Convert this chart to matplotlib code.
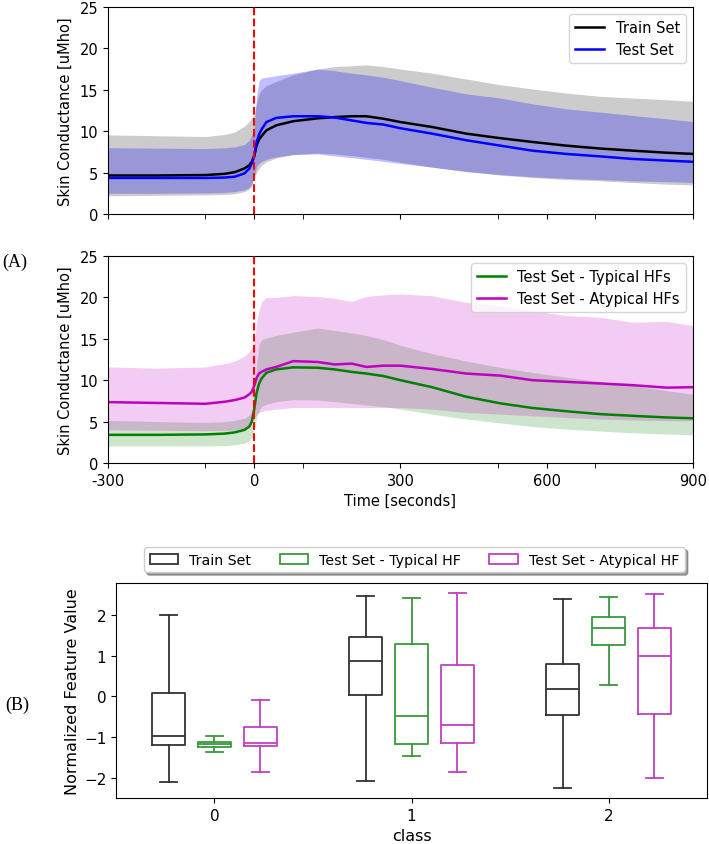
import numpy as np
import matplotlib
matplotlib.use("Agg")
import matplotlib.pyplot as plt
from matplotlib.patches import Patch

# time grid (seconds)
t = [-300, -200, -100, -60, -40, -20, -10, -5, 0, 5, 10, 15, 25, 45, 80, 130,
     165, 200, 230, 265, 300, 365, 435, 505, 570, 640, 710, 775, 845, 900]

# panel 1: train / test means and bands
train_mean = [4.65, 4.65, 4.7, 4.85, 5.05, 5.5, 5.9, 6.3, 7.0, 8.3, 9.0, 9.4, 10.1, 10.7, 11.2, 11.55,
              11.7, 11.8, 11.8, 11.5, 11.1, 10.5, 9.7, 9.15, 8.7, 8.25, 7.9, 7.65, 7.4, 7.25]
train_hi = [9.55, 9.45, 9.35, 9.6, 9.9, 10.6, 11.2, 11.6, 12.0, 13.5, 14.5, 15.0, 15.5, 16.0, 16.8, 17.5,
            17.8, 17.9, 18.0, 17.8, 17.5, 17.0, 16.3, 15.6, 15.1, 14.6, 14.2, 14.0, 13.8, 13.6]
train_lo = [2.2, 2.25, 2.3, 2.35, 2.45, 2.7, 3.0, 3.4, 4.5, 5.0, 5.5, 5.9, 6.3, 6.75, 7.15, 7.35,
            7.25, 7.05, 6.85, 6.6, 6.25, 5.65, 5.1, 4.7, 4.4, 4.15, 4.0, 3.8, 3.6, 3.5]
test_mean = [4.35, 4.35, 4.35, 4.4, 4.5, 4.9, 5.5, 6.1, 7.0, 8.7, 9.6, 10.2, 11.1, 11.6, 11.8, 11.8,
             11.65, 11.3, 11.0, 10.8, 10.35, 9.7, 8.9, 8.25, 7.65, 7.25, 6.95, 6.65, 6.45, 6.3]
test_hi = [8.0, 7.95, 7.9, 8.0, 8.1, 8.4, 8.9, 9.5, 10.5, 14.3, 16.1, 16.4, 16.5, 16.7, 17.0, 17.5,
           17.3, 17.0, 16.8, 16.5, 16.1, 15.3, 14.5, 14.0, 13.3, 12.7, 12.3, 11.9, 11.5, 11.15]
test_lo = [2.5, 2.5, 2.55, 2.6, 2.7, 2.9, 3.2, 3.6, 4.5, 5.8, 6.1, 6.3, 6.6, 6.9, 7.2, 7.25,
           7.0, 6.8, 6.6, 6.35, 6.1, 5.65, 5.15, 4.75, 4.5, 4.3, 4.15, 4.0, 3.9, 3.8]

# panel 2: typical / atypical HFs
typ_mean = [3.4, 3.4, 3.45, 3.55, 3.7, 4.0, 4.4, 5.0, 6.5, 8.5, 9.6, 10.2, 10.9, 11.3, 11.55, 11.5,
            11.3, 11.0, 10.8, 10.5, 10.0, 9.15, 8.0, 7.2, 6.65, 6.25, 5.9, 5.7, 5.5, 5.4]
typ_hi = [5.15, 5.0, 4.9, 5.0, 5.15, 5.4, 5.8, 6.3, 7.5, 12.0, 14.3, 14.9, 15.1, 15.4, 15.8, 16.3,
          16.0, 15.7, 15.4, 14.9, 14.2, 13.2, 12.3, 11.55, 10.95, 10.35, 9.85, 9.35, 8.75, 8.3]
typ_lo = [2.05, 2.05, 2.05, 2.1, 2.2, 2.4, 2.7, 3.1, 4.0, 5.5, 6.3, 6.8, 7.1, 7.4, 7.65, 7.6,
          7.4, 7.2, 7.0, 6.8, 6.5, 5.9, 5.3, 4.85, 4.4, 4.1, 3.85, 3.65, 3.5, 3.4]
atyp_mean = [7.35, 7.25, 7.15, 7.4, 7.6, 7.9, 8.3, 8.6, 9.3, 10.3, 10.8, 11.0, 11.3, 11.6, 12.3, 12.2,
             11.9, 12.0, 11.6, 11.75, 11.75, 11.35, 10.8, 10.55, 10.0, 9.8, 9.6, 9.4, 9.1, 9.15]
atyp_hi = [11.6, 11.45, 11.6, 12.0, 12.3, 12.9, 13.4, 13.9, 14.5, 17.0, 18.5, 19.5, 20.0, 20.0, 20.2, 20.1,
           19.9, 19.5, 20.1, 20.3, 20.4, 20.2, 19.4, 19.0, 18.4, 17.8, 17.6, 17.0, 17.1, 16.6]
atyp_lo = [4.0, 3.95, 3.9, 3.95, 4.0, 4.2, 4.6, 5.0, 5.5, 5.9, 6.1, 6.2, 6.35, 6.5, 6.7, 6.7,
           6.7, 6.7, 6.7, 6.7, 6.7, 6.5, 6.1, 5.9, 5.7, 5.5, 5.3, 5.2, 5.1, 5.1]

# panel 3: box stats per class (whislo, q1, med, q3, whishi)
classes = [0, 1, 2]
box_groups = ["Train Set", "Test Set - Typical HF", "Test Set - Atypical HF"]
box_colors = ["#333333", "#3a9a3a", "#c040c0"]
box_stats = {
    "Train Set": [(-2.11, -1.20, -0.97, 0.08, 2.00),
                  (-2.09, 0.02, 0.86, 1.45, 2.47),
                  (-2.26, -0.46, 0.18, 0.78, 2.40)],
    "Test Set - Typical HF": [(-1.38, -1.24, -1.185, -1.12, -0.97),
                              (-1.46, -1.18, -0.49, 1.28, 2.41),
                              (0.27, 1.27, 1.67, 1.94, 2.44)],
    "Test Set - Atypical HF": [(-1.87, -1.22, -1.14, -0.76, -0.10),
                               (-1.87, -1.15, -0.70, 0.77, 2.54),
                               (-2.02, -0.43, 0.99, 1.68, 2.51)],
}

plt.rcParams["font.family"] = "DejaVu Sans"
fig = plt.figure(figsize=(7.09, 8.45), dpi=100)

ax1 = fig.add_axes([0.1523, 0.7456, 0.8251, 0.245])
ax2 = fig.add_axes([0.1523, 0.4509, 0.8251, 0.245])
ax3 = fig.add_axes([0.1636, 0.0544, 0.8336, 0.2544])


def style_time_axis(ax, show_labels):
    ax.set_xlim(-300, 900)
    ax.set_ylim(0, 25)
    ax.set_yticks([0, 5, 10, 15, 20, 25])
    ax.set_xticks([-300, 0, 300, 600, 900])
    ax.set_xticks([-100, 100, 500, 700], minor=True)
    ax.tick_params(axis="x", which="minor", length=3.5)
    ax.tick_params(labelsize=10.5)
    if show_labels:
        ax.set_xticklabels(["-300", "0", "300", "600", "900"])
        ax.set_xlabel("Time [seconds]", fontsize=10.5)
    else:
        ax.set_xticklabels([])
    ax.set_ylabel("Skin Conductance [uMho]", fontsize=10.5, labelpad=5)
    ax.axvline(0, color="red", ls="--", lw=1.5, zorder=5)


ax1.fill_between(t, train_lo, train_hi, color="black", alpha=0.2, lw=0)
ax1.fill_between(t, test_lo, test_hi, color="blue", alpha=0.25, lw=0)
ax1.plot(t, train_mean, color="black", lw=1.8, label="Train Set")
ax1.plot(t, test_mean, color="blue", lw=1.8, label="Test Set")
ax1.legend(loc="upper right", fontsize=10.5)
style_time_axis(ax1, False)

ax2.fill_between(t, typ_lo, typ_hi, color="green", alpha=0.2, lw=0)
ax2.fill_between(t, atyp_lo, atyp_hi, color="m", alpha=0.2, lw=0)
ax2.plot(t, typ_mean, color="green", lw=1.8, label="Test Set - Typical HFs")
ax2.plot(t, atyp_mean, color="m", lw=1.8, label="Test Set - Atypical HFs")
ax2.legend(loc="upper right", fontsize=10.5)
style_time_axis(ax2, True)

# boxplots
offsets = [-0.233, 0.0, 0.233]
handles = []
for g, off, col in zip(box_groups, offsets, box_colors):
    stats = []
    for c, (lo, q1, med, q3, hi) in zip(classes, box_stats[g]):
        stats.append({"whislo": lo, "q1": q1, "med": med, "q3": q3, "whishi": hi, "fliers": []})
    props = dict(color=col, lw=1.3)
    ax3.bxp(stats, positions=[c + off for c in classes], widths=0.167, showfliers=False,
            boxprops=props, whiskerprops=props, capprops=props, medianprops=props,
            manage_ticks=False)
    handles.append(Patch(facecolor="none", edgecolor=col, lw=1.3, label=g))

ax3.set_xlim(-0.5, 2.5)
ax3.set_ylim(-2.5, 2.78)
ax3.set_xticks(classes)
ax3.set_xticklabels([str(c) for c in classes])
ax3.set_yticks([-2, -1, 0, 1, 2])
ax3.tick_params(labelsize=11)
ax3.set_xlabel("class", fontsize=11.5)
ax3.set_ylabel("Normalized Feature Value", fontsize=11.5, labelpad=3)
ax3.legend(handles=handles, loc="lower center", bbox_to_anchor=(0.505, 1.05), ncol=3,
           fontsize=10.2, shadow=True, borderaxespad=0)

fig.text(0.003, 1 - 262 / 845, "(A)", family="Liberation Serif", fontsize=13, va="center")
fig.text(0.008, 1 - 705 / 845, "(B)", family="Liberation Serif", fontsize=13, va="center")

fig.savefig("out.png", dpi=100)
